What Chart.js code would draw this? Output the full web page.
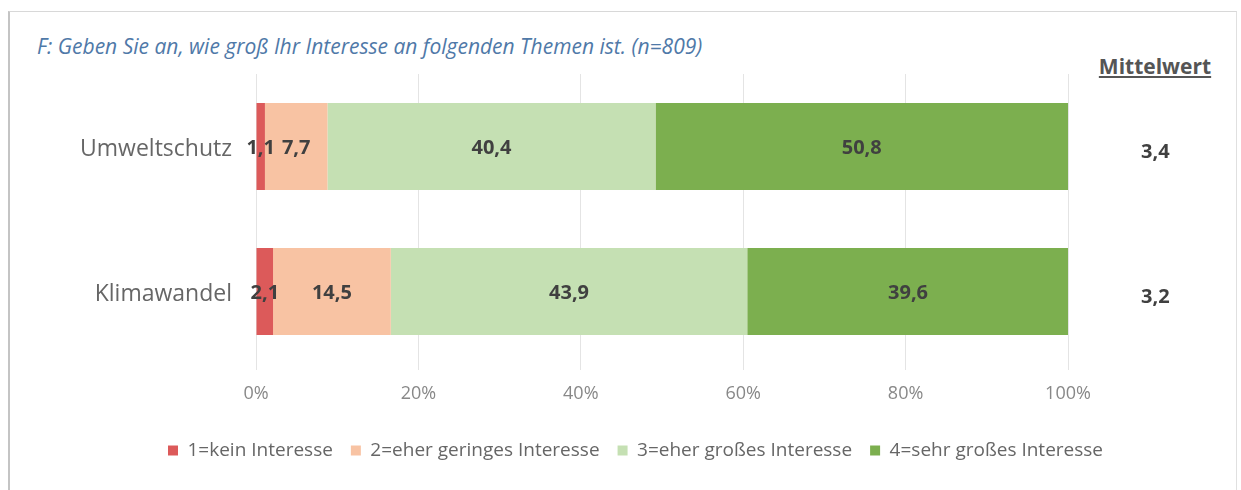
<!DOCTYPE html>
<html>
<head>
<meta charset="utf-8">
<script src="https://cdn.jsdelivr.net/npm/chart.js@4/dist/chart.umd.min.js"></script>
<style>
  html, body { margin: 0; padding: 0; background: #fff; }
  #wrap { position: relative; width: 1241px; height: 490px; overflow: hidden; font-family: "Open Sans", sans-serif; }
  #frame { position: absolute; left: 8px; top: 11px; width: 1226px; height: 500px; border-left: 2px solid #c4c4c4; border-top: 1px solid #d8d8d8; border-right: 1px solid #e0e0e0; }
  #title { position: absolute; left: 37px; top: 32px; font-size: 21px; font-style: italic; color: #4f79a8; }
  #meanHead { position: absolute; left: 1155px; top: 52px; transform: translateX(-50%); font-size: 21px; font-weight: bold; color: #555; text-decoration: underline; }
  canvas { position: absolute; left: 0; top: 0; }
</style>
</head>
<body>
<div id="wrap">
  <div id="frame"></div>
  <div id="title">F: Geben Sie an, wie groß Ihr Interesse an folgenden Themen ist. (n=809)</div>
  <div id="meanHead">Mittelwert</div>
  <canvas id="c" width="1241" height="490"></canvas>
</div>
<script>
/* Interesse an Umweltthemen — gestapelte 100%-Balken */

const categories = ['Umweltschutz', 'Klimawandel'];
const seriesLabels = ['1=kein Interesse', '2=eher geringes Interesse', '3=eher großes Interesse', '4=sehr großes Interesse'];
const keinInteresse = [1.1, 2.1];
const geringesInteresse = [7.7, 14.5];
const grossesInteresse = [40.4, 43.9];
const sehrGrossesInteresse = [50.8, 39.6];
const mittelwerte = ['3,4', '3,2'];
const xTicks = [0, 20, 40, 60, 80, 100];

const FONT = '"Open Sans", sans-serif';
const colors = ['#dc5a5a', '#f8c3a3', '#c5e0b3', '#7caf4f'];
const fmt = v => v.toFixed(1).replace('.', ',');

// Werte mittig in die Balkensegmente
const valueLabels = {
  id: 'valueLabels',
  afterDatasetsDraw(chart){
    const ctx = chart.ctx;
    ctx.save();
    ctx.font = 'bold 20px ' + FONT;
    ctx.fillStyle = '#404040';
    ctx.textAlign = 'center';
    ctx.textBaseline = 'middle';
    chart.data.datasets.forEach((ds, i) => {
      chart.getDatasetMeta(i).data.forEach((bar, j) => {
        const x = (bar.x + bar.base) / 2;
        ctx.fillText(fmt(ds.data[j]), x, bar.y + 2);
      });
    });
    ctx.restore();
  }
};

// vertikale Achsen sollen den Plotbereich nicht zusätzlich einrücken
const noPad = s => { s.paddingTop = 0; s.paddingBottom = 0; };

new Chart(document.getElementById('c'), {
  type: 'bar',
  data: {
    labels: categories,
    datasets: [keinInteresse, geringesInteresse, grossesInteresse, sehrGrossesInteresse].map((d, i) => ({
      label: seriesLabels[i], data: d, backgroundColor: colors[i], borderWidth: 0,
      barPercentage: 0.6, categoryPercentage: 1
    }))
  },
  options: {
    indexAxis: 'y',
    responsive: false, animation: false,
    layout: { padding: { left: 30, right: 0, top: 74, bottom: 20 } },
    plugins: {
      tooltip: { enabled: false },
      legend: {
        position: 'bottom',
        labels: { color: '#666', boxWidth: 10, boxHeight: 10, padding: 18, font: { size: 19, family: FONT } }
      }
    },
    scales: {
      x: {
        stacked: true, min: 0, max: 100,
        afterBuildTicks: s => { s.ticks = xTicks.map(v => ({ value: v })); },
        ticks: { callback: v => v + '%', color: '#888', padding: 13, font: { size: 18, family: FONT } },
        grid: { color: '#e4e4e4', tickLength: 6 },
        border: { display: false },
        afterFit: s => { s.height = 59; }
      },
      y: {
        stacked: true,
        ticks: { color: '#666', padding: 16, labelOffset: 3, font: { size: 23, family: FONT } },
        grid: { display: false },
        border: { display: false },
        afterFit: s => { s.width = 226; noPad(s); }
      },
      // Mittelwert-Spalte rechts als eigene Kategorie-Achse
      yMean: {
        type: 'category', labels: mittelwerte, position: 'right', offset: true,
        ticks: { color: '#404040', padding: 65, crossAlign: 'near', labelOffset: 6, font: { size: 20, weight: 'bold', family: FONT } },
        grid: { display: false },
        border: { display: false },
        afterFit: s => { s.width = 173; noPad(s); }
      }
    }
  },
  plugins: [valueLabels]
});
</script>
</body>
</html>
